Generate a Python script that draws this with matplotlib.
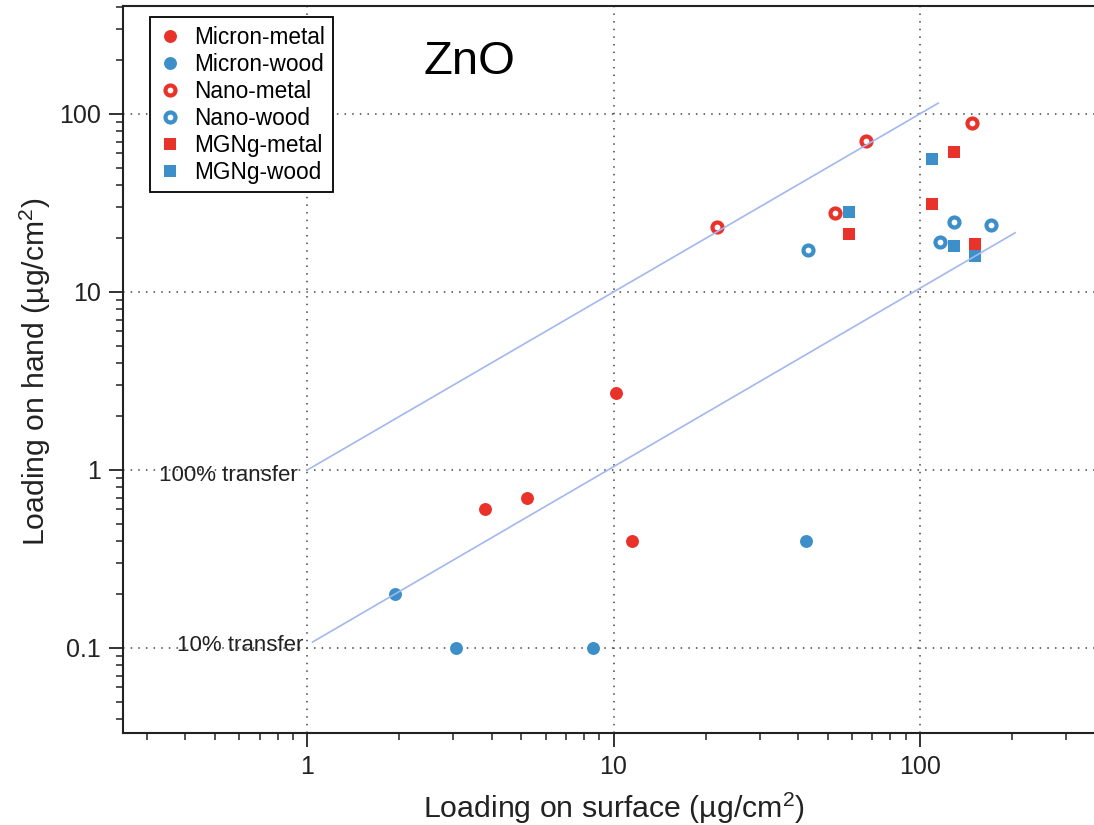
import numpy as np
import matplotlib
matplotlib.use("Agg")
import matplotlib.pyplot as plt
from matplotlib.ticker import FuncFormatter, NullFormatter, LogLocator

plt.rcParams['font.family'] = ['Liberation Sans', 'DejaVu Sans']
plt.rcParams['mathtext.fontset'] = 'custom'
plt.rcParams['mathtext.rm'] = 'Liberation Sans'
plt.rcParams['mathtext.it'] = 'Liberation Sans:italic'

# values (µg/cm2)
micron_metal_x = [3.8, 5.2, 10.2, 11.5]
micron_metal_y = [0.6, 0.7, 2.7, 0.4]
micron_wood_x = [1.94, 3.07, 8.6, 42.6]
micron_wood_y = [0.2, 0.1, 0.1, 0.4]
nano_metal_x = [21.7, 52.8, 67, 148]
nano_metal_y = [23.2, 27.9, 70.8, 88.7]
nano_wood_x = [43.2, 116.6, 129, 171]
nano_wood_y = [17.2, 19.0, 24.7, 23.7]
mgng_metal_x = [58.6, 110, 129, 152]
mgng_metal_y = [21.1, 31.2, 60.9, 18.5]
mgng_wood_x = [58.6, 110, 129, 152]
mgng_wood_y = [28.0, 56.1, 18.1, 15.9]

# transfer reference lines
line100_x = [1, 115]
line100_y = [1, 115]
line10_x = [1.04, 205]
line10_y = [0.108, 21.5]

red = '#e8322a'
blue = '#3c8fc8'
line_col = '#a3b7f0'

fig = plt.figure(figsize=(10.94, 8.25), dpi=100)
ax = fig.add_axes([123 / 1094, (825 - 733) / 825, (1104 - 123) / 1094, (733 - 6) / 825])
ax.set_xscale('log')
ax.set_yscale('log')
ax.set_xlim(0.25, 400)
ax.set_ylim(0.0333, 404)

ax.plot(micron_metal_x, micron_metal_y, 'o', ms=9.3, mew=0, color=red, label='Micron-metal', zorder=3)
ax.plot(micron_wood_x, micron_wood_y, 'o', ms=9.3, mew=0, color=blue, label='Micron-wood', zorder=3)
ax.plot(nano_metal_x, nano_metal_y, 'o', ms=7.2, mew=3.0, mfc='white', mec=red, label='Nano-metal', zorder=3)
ax.plot(nano_wood_x, nano_wood_y, 'o', ms=7.2, mew=3.0, mfc='white', mec=blue, label='Nano-wood', zorder=3)
ax.plot(mgng_metal_x, mgng_metal_y, 's', ms=8, mew=0, color=red, label='MGNg-metal', zorder=3)
ax.plot(mgng_wood_x, mgng_wood_y, 's', ms=8, mew=0, color=blue, label='MGNg-wood', zorder=3)

ax.plot(line100_x, line100_y, color=line_col, lw=1.2, zorder=4)
ax.plot(line10_x, line10_y, color=line_col, lw=1.2, zorder=4)

ax.text(0.93, 0.867, '100% transfer', ha='right', va='baseline', fontsize=16, color='#222222')
ax.text(0.973, 0.0962, '10% transfer', ha='right', va='baseline', fontsize=16, color='#222222')
ax.text(2.4, 168, 'ZnO', ha='left', va='baseline', fontsize=34, color='black')

# grid only at decades
ax.xaxis.set_major_locator(LogLocator(base=10))
ax.yaxis.set_major_locator(LogLocator(base=10))
ax.xaxis.set_minor_locator(LogLocator(base=10, subs=np.arange(2, 10)))
ax.yaxis.set_minor_locator(LogLocator(base=10, subs=np.arange(2, 10)))
fmt = FuncFormatter(lambda v, p: f'{v:g}')
ax.xaxis.set_major_formatter(fmt)
ax.yaxis.set_major_formatter(fmt)
ax.xaxis.set_minor_formatter(NullFormatter())
ax.yaxis.set_minor_formatter(NullFormatter())
ax.grid(True, which='major', color='#444444', lw=1.1, linestyle=(0, (1, 4)))

ax.tick_params(which='both', direction='out', top=False, right=False, colors='#222222')
ax.tick_params(which='major', length=10, width=1.3, labelsize=18, pad=6)
ax.tick_params(which='minor', length=5, width=1.1)
for s in ['left', 'bottom', 'top']:
    ax.spines[s].set_linewidth(1.5)
    ax.spines[s].set_color('#222222')
ax.spines['right'].set_visible(False)

ax.set_xlabel('Loading on surface (µg/cm$^2$)', fontsize=21.8, labelpad=8, color='#222222')
fig.text(35 / 1094, 1 - 372 / 825, 'Loading on hand (µg/cm$^2$)', rotation=90,
         ha='center', va='center', fontsize=21.7, color='#222222')

leg = ax.legend(loc='upper left', bbox_to_anchor=(0.0275, 0.985), borderaxespad=0,
                fontsize=16.3, handlelength=1.0, handletextpad=0.55, borderpad=0.38,
                labelspacing=0.18, fancybox=False, framealpha=1, numpoints=1)
leg.get_frame().set_edgecolor('black')
leg.get_frame().set_linewidth(1.3)

fig.savefig('out.png', dpi=100, facecolor='white')
